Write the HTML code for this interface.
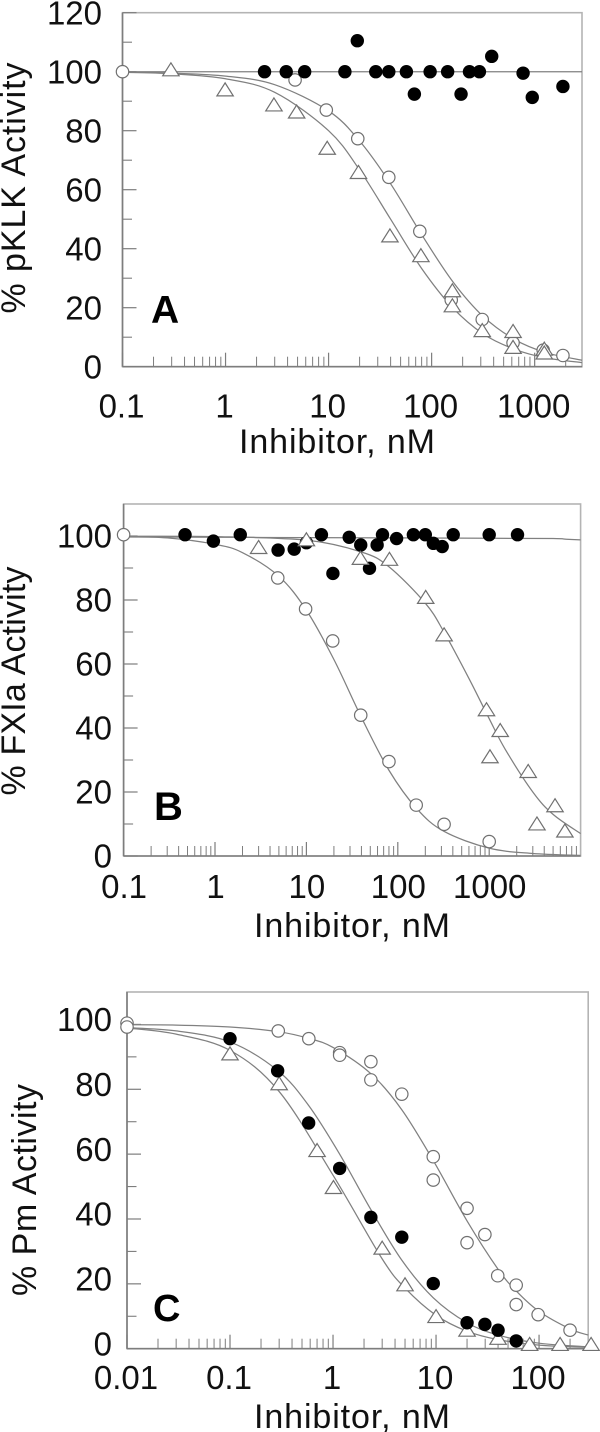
<!DOCTYPE html>
<html lang="en">
<head>
<meta charset="utf-8">
<title>Inhibition curves: pKLK, FXIa and Pm activity</title>
<style>
html,body{margin:0;padding:0;background:#fff;}
#figure{display:block;width:600px;height:1432px;filter:blur(0.35px);}
text{font-family:"Liberation Sans",Arial,sans-serif;fill:#111;}
.lab{font-size:34px;}
.letter{font-weight:700;fill:#000;}
</style>
</head>
<body>
<svg id="figure" xmlns="http://www.w3.org/2000/svg" width="600" height="1432" viewBox="0 0 600 1432">
  <g id="panel-a"></g>
  <g id="panel-b"></g>
  <g id="panel-c"></g>

  <text class="lab" transform="translate(25 188) rotate(-90)" text-anchor="middle" textLength="251" lengthAdjust="spacing">% pKLK Activity</text>
  <text class="lab" x="337" y="453" text-anchor="middle" textLength="196" lengthAdjust="spacing">Inhibitor, nM</text>
  <text class="letter" x="151" y="323" font-size="39">A</text>

  <text class="lab" transform="translate(25 681) rotate(-90)" text-anchor="middle" textLength="229" lengthAdjust="spacing">% FXIa Activity</text>
  <text class="lab" x="352" y="937" text-anchor="middle" textLength="196" lengthAdjust="spacing">Inhibitor, nM</text>
  <text class="letter" x="154" y="820" font-size="40">B</text>

  <text class="lab" transform="translate(36 1190) rotate(-90)" text-anchor="middle" textLength="212" lengthAdjust="spacing">% Pm Activity</text>
  <text class="lab" x="352" y="1428" text-anchor="middle" textLength="196" lengthAdjust="spacing">Inhibitor, nM</text>
  <text class="letter" x="153" y="1321" font-size="38">C</text>
</svg>
<script>
// ---------- Panel A data ----------
const aXTicks = [0.1, 1, 10, 100, 1000];
const aXTickLabels = ["0.1", "1", "10", "100", "1000"];
const aYTicks = [0, 20, 40, 60, 80, 100, 120];
const aYMinorTicks = [10, 30, 50, 70, 90, 110];
const aOpenX = [0.1, 4.73, 9.5, 19.2, 38.4, 76.8, 155, 310, 617, 1210, 1880];
const aOpenY = [100, 97.2, 87, 77.3, 64.2, 45.9, 22.6, 16, 8.1, 5.6, 3.8];
const aTriX = [0.295, 0.99, 2.95, 4.9, 9.7, 19.5, 39.4, 78.7, 159, 159, 310, 617, 617, 1240, 1240];
const aTriY = [100.3, 93.5, 88.4, 86, 73.7, 65.5, 44, 37.3, 25.4, 20.3, 11.9, 11.6, 6.2, 5.6, 4.3];
const aFilledX = [2.39, 3.88, 5.86, 14.4, 19, 28.7, 38.4, 56.9, 68, 96.7, 143, 193, 233, 291, 383, 772, 948, 1880];
const aFilledY = [100, 100, 100, 100, 110.5, 100, 100, 100, 92.4, 100, 100, 92.4, 100, 100, 105.2, 99.5, 91.3, 95];
const aLineFlatX = [0.1, 2880];
const aLineFlatY = [100, 100];
const aLineOpenX = [0.1, 0.3, 1, 3, 10, 20, 40, 80, 160, 320, 640, 1280, 2880];
const aLineOpenY = [100, 99.5, 98.5, 95.6, 86.7, 76.5, 62, 44.8, 28.9, 16.9, 9.2, 4.8, 2.2];
const aLineTriX = [0.1, 0.3, 1, 3, 10, 20, 40, 80, 160, 320, 640, 1280, 2880];
const aLineTriY = [99.8, 99.3, 97.6, 93, 80, 66.7, 50, 33.3, 20, 11, 5.9, 3, 1.4];

// ---------- Panel B data ----------
const bXTicks = [0.1, 1, 10, 100, 1000];
const bXTickLabels = ["0.1", "1", "10", "100", "1000"];
const bYTicks = [0, 20, 40, 60, 80, 100];
const bYMinorTicks = [10, 30, 50, 70, 90];
const bOpenX = [0.1, 4.86, 9.8, 19.4, 39.3, 80, 159, 321, 1000];
const bOpenY = [100.4, 86.9, 77.2, 67.2, 44, 29.5, 15.9, 9.9, 4.5];
const bTriX = [3, 10, 39, 81, 202, 321, 934, 1020, 1320, 2670, 3330, 5250, 6730];
const bTriY = [96.1, 98.5, 92.7, 92.4, 80.5, 68.8, 45.4, 30.7, 38.9, 26.1, 9.7, 15.4, 7.5];
const bFilledX = [0.47, 0.96, 1.89, 4.9, 7.35, 10, 14.6, 19.5, 29.4, 39.3, 49, 59.4, 68, 97, 148, 200, 245, 306, 404, 1000, 2040];
const bFilledY = [100.4, 98.4, 100.4, 95.6, 95.9, 97.9, 100.4, 88.3, 99.6, 97.2, 89.9, 97.2, 100.4, 99.2, 100.4, 100.4, 97.7, 96.7, 100.4, 100.4, 100.4];
const bLineFlatX = [0.1, 1, 10, 100, 1000, 5000, 7000, 10000];
const bLineFlatY = [99.7, 99.6, 99.5, 99.4, 99.3, 99.2, 99, 98.8];
const bLineOpenX = [0.1, 0.3, 1, 2, 5, 10, 20, 40, 80, 160, 320, 1000, 3000, 10000];
const bLineOpenY = [99.8, 99.4, 97.4, 94.8, 87.4, 76.8, 61.4, 43.3, 26.8, 14.9, 7.7, 2.45, 0.8, 0.2];
const bLineTriX = [0.1, 1, 10, 40, 80, 200, 320, 600, 1000, 1500, 3000, 5000, 10000];
const bLineTriY = [99.9, 99.8, 98.7, 95, 90.4, 79, 70, 55.5, 42.9, 33.3, 20, 13, 7];

// ---------- Panel C data ----------
const cXTicks = [0.01, 0.1, 1, 10, 100];
const cXTickLabels = ["0.01", "0.1", "1", "10", "100"];
const cYTicks = [0, 20, 40, 60, 80, 100];
const cYMinorTicks = [10, 30, 50, 70, 90];
const cOpenX = [0.01, 0.01, 0.294, 0.582, 1.16, 1.16, 2.33, 2.33, 4.65, 9.4, 9.4, 20, 20, 29.8, 39.7, 60, 60, 98, 200];
const cOpenY = [100.4, 99.2, 98, 95.6, 91.3, 90.5, 88.5, 82.9, 78.5, 59.2, 52, 43.3, 32.7, 35.2, 22.5, 19.6, 13.6, 10.5, 5.7];
const cTriX = [0.1, 0.3, 0.7, 1.01, 3, 5, 10, 20, 40, 81, 160, 320];
const cTriY = [90.6, 81.4, 60.8, 49.4, 30.7, 19.4, 9.6, 5.4, 2.9, 1, 1, 1];
const cFilledX = [0.1, 0.29, 0.58, 1.16, 2.33, 4.65, 9.4, 20, 29.8, 40, 60];
const cFilledY = [95.6, 85.7, 69.6, 55.6, 40.5, 34.4, 20.1, 8, 7.5, 5.7, 2.4];
const cLineOpenX = [0.01, 0.03, 0.1, 0.29, 0.58, 1, 2.33, 4.65, 9.4, 20, 40, 60, 100, 200, 300];
const cLineOpenY = [99.9, 99.8, 99.2, 97.8, 95.7, 92.9, 84.8, 73.7, 58, 39.4, 24.5, 17.8, 11.5, 6.1, 4.2];
const cLineFilledX = [0.01, 0.03, 0.1, 0.29, 0.58, 1.16, 2.33, 4.65, 9.4, 20, 40, 100, 300];
const cLineFilledY = [99, 98, 94.6, 85.8, 75, 60, 42.9, 27.3, 15.7, 8, 4.2, 1.7, 0.6];
const cLineTriX = [0.01, 0.03, 0.1, 0.3, 1, 3, 5, 10, 20, 40, 100, 300];
const cLineTriY = [98.9, 97, 92, 79.3, 53.5, 27.7, 18.7, 10.3, 5.4, 2.8, 1.1, 0.4];

// ---------- drawing helpers ----------
const NS = "http://www.w3.org/2000/svg";
const AXIS_COLOR = "#7d7d7d";
const CURVE_COLOR = "#808080";

function node(parent, tag, attrs) {
  const el = document.createElementNS(NS, tag);
  for (const k in attrs) el.setAttribute(k, attrs[k]);
  parent.appendChild(el);
  return el;
}

function makeScales(f) {
  const lo = Math.log10(f.xMin), hi = Math.log10(f.xMax);
  return {
    x: v => f.left + (Math.log10(v) - lo) / (hi - lo) * (f.right - f.left),
    y: v => f.bottom - v / f.yMax * (f.bottom - f.top)
  };
}

function drawFrame(g, f, s, xTicks, xLabels, yTicks, yMinor) {
  const frame = node(g, "rect", {x: f.left, y: f.top, width: f.right - f.left, height: f.bottom - f.top, fill: "none", stroke: "#b4b4b4", "stroke-width": 1.6});
  
  

  const xAxis = node(g, "line", {x1: f.left, x2: f.right, y1: f.bottom, y2: f.bottom, stroke: AXIS_COLOR, "stroke-width": 1.6});
  
  

  const yAxis = node(g, "line", {x1: f.left, x2: f.left, y1: f.top, y2: f.bottom, stroke: AXIS_COLOR, "stroke-width": 1.6});
  
  

  yTicks.forEach(v => {
    const t = node(g, "line", {x1: f.left, x2: f.left + 14, y1: s.y(v), y2: s.y(v), stroke: AXIS_COLOR, "stroke-width": 1.2});
    
    
    const l = node(g, "text", {x: f.yLabelX, y: s.y(v) + 11.7 + f.yLabelDy, "text-anchor": "end", "font-size": f.tickFont});
    
    
    l.textContent = String(v);
  });
  yMinor.forEach(v => {
    const t = node(g, "line", {x1: f.left, x2: f.left + 9.5, y1: s.y(v), y2: s.y(v), stroke: AXIS_COLOR, "stroke-width": 1.1});
    
    
  });
  xTicks.forEach((v, i) => {
    const t = node(g, "line", {x1: s.x(v), x2: s.x(v), y1: f.bottom, y2: f.bottom - 14, stroke: AXIS_COLOR, "stroke-width": 1.2});
    
    
    const l = node(g, "text", {x: s.x(v) + f.xLabelDx, y: f.xLabelY, "text-anchor": "middle", "font-size": f.tickFont});
    
    
    l.textContent = xLabels[i];
    for (let m = 2; m <= 9; m++) {
      const mv = v * m;
      if (mv >= f.xMax) break;
      const mt = node(g, "line", {x1: s.x(mv), x2: s.x(mv), y1: f.bottom, y2: f.bottom - 10, stroke: AXIS_COLOR, "stroke-width": 1});
      
      
    }
  });
}

function curvePath(pts) {
  let d = "M" + pts[0][0].toFixed(2) + " " + pts[0][1].toFixed(2);
  for (let i = 0; i < pts.length - 1; i++) {
    const p0 = pts[Math.max(0, i - 1)], p1 = pts[i], p2 = pts[i + 1], p3 = pts[Math.min(pts.length - 1, i + 2)];
    const c1x = p1[0] + (p2[0] - p0[0]) / 6, c1y = p1[1] + (p2[1] - p0[1]) / 6;
    const c2x = p2[0] - (p3[0] - p1[0]) / 6, c2y = p2[1] - (p3[1] - p1[1]) / 6;
    d += " C" + [c1x, c1y, c2x, c2y, p2[0], p2[1]].map(n => n.toFixed(2)).join(" ");
  }
  return d;
}

function drawCurve(g, s, xs, ys, name) {
  const pts = xs.map((v, i) => [s.x(v), s.y(ys[i])]);
  const c = node(g, "path", {d: curvePath(pts), fill: "none", stroke: CURVE_COLOR, "stroke-width": 1.25});
  
  
}

function drawOpen(g, s, xs, ys) {
  xs.forEach((v, i) => {
    const c = node(g, "circle", {cx: s.x(v), cy: s.y(ys[i]), r: 6.2, fill: "#fff", stroke: "#707070", "stroke-width": 1.2});
    
    
  });
}

function drawFilled(g, s, xs, ys) {
  xs.forEach((v, i) => {
    const c = node(g, "circle", {cx: s.x(v), cy: s.y(ys[i]), r: 6.7, fill: "#000"});
    
    
  });
}

function drawTriangles(g, s, xs, ys) {
  xs.forEach((v, i) => {
    const px = s.x(v), py = s.y(ys[i]);
    const pts = [[px, py - 8], [px + 8.2, py + 5], [px - 8.2, py + 5]].map(p => p.join(",")).join(" ");
    const t = node(g, "polygon", {points: pts, fill: "#fff", stroke: "#707070", "stroke-width": 1.2});
    
    
  });
}

// ---------- panel A ----------
const frameA = {left: 122.5, right: 582, top: 12.7, bottom: 366.7, xMin: 0.1, xMax: 2880, yMax: 120, yLabelX: 102, yLabelDy: 0, xLabelY: 417.3, xLabelDx: -1, tickFont: 33};
const sA = makeScales(frameA);
const gA = document.getElementById("panel-a");
drawFrame(gA, frameA, sA, aXTicks, aXTickLabels, aYTicks, aYMinorTicks);
drawCurve(gA, sA, aLineFlatX, aLineFlatY, "filled-series-fit-line");
drawCurve(gA, sA, aLineOpenX, aLineOpenY, "open-circle-fit-curve");
drawCurve(gA, sA, aLineTriX, aLineTriY, "triangle-fit-curve");
drawOpen(gA, sA, aOpenX, aOpenY);
drawFilled(gA, sA, aFilledX, aFilledY);
drawTriangles(gA, sA, aTriX, aTriY);

// ---------- panel B ----------
const frameB = {left: 123.6, right: 580.6, top: 504, bottom: 856, xMin: 0.1, xMax: 10000, yMax: 110, yLabelX: 112, yLabelDy: 0, xLabelY: 898, xLabelDx: 0.5, tickFont: 33};
const sB = makeScales(frameB);
const gB = document.getElementById("panel-b");
drawFrame(gB, frameB, sB, bXTicks, bXTickLabels, bYTicks, bYMinorTicks);
drawCurve(gB, sB, bLineFlatX, bLineFlatY, "filled-series-fit-line");
drawCurve(gB, sB, bLineOpenX, bLineOpenY, "open-circle-fit-curve");
drawCurve(gB, sB, bLineTriX, bLineTriY, "triangle-fit-curve");
drawOpen(gB, sB, bOpenX, bOpenY);
drawFilled(gB, sB, bFilledX, bFilledY);
drawTriangles(gB, sB, bTriX, bTriY);

// ---------- panel C ----------
const frameC = {left: 127, right: 588.2, top: 992, bottom: 1348.7, xMin: 0.01, xMax: 300, yMax: 110, yLabelX: 112, yLabelDy: -5, xLabelY: 1389, xLabelDx: -1, tickFont: 33};
const sC = makeScales(frameC);
const gC = document.getElementById("panel-c");
drawFrame(gC, frameC, sC, cXTicks, cXTickLabels, cYTicks, cYMinorTicks);
drawCurve(gC, sC, cLineOpenX, cLineOpenY, "open-circle-fit-curve");
drawCurve(gC, sC, cLineFilledX, cLineFilledY, "filled-circle-fit-curve");
drawCurve(gC, sC, cLineTriX, cLineTriY, "triangle-fit-curve");
drawOpen(gC, sC, cOpenX, cOpenY);
drawTriangles(gC, sC, cTriX, cTriY);
drawFilled(gC, sC, cFilledX, cFilledY);
</script>
</body>
</html>
